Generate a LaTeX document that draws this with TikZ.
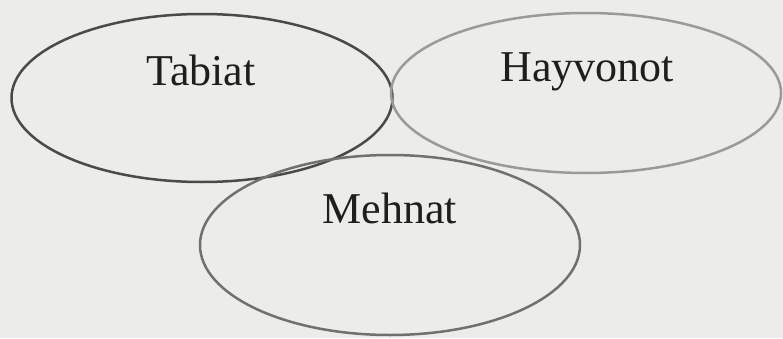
\documentclass[tikz,border=0pt]{standalone}
\usepackage{fontspec}
\setmainfont{Liberation Serif}
\usetikzlibrary{shapes.geometric}
\definecolor{paper}{HTML}{ECECE9}
\definecolor{inkA}{HTML}{4A4A4A}
\definecolor{inkB}{HTML}{9A9A9A}
\definecolor{inkC}{HTML}{707070}
\definecolor{txt}{HTML}{1E1E1E}
\tikzset{
  oval/.style={ellipse, line width=2.5pt, inner sep=0pt},
  lbl/.style={text=txt, font=\fontsize{44}{50}\selectfont, anchor=base, inner sep=0pt}
}
\begin{document}
\begin{tikzpicture}[x=1pt,y=1pt]
\fill[paper] (0,0) rectangle (783,338);
\useasboundingbox (0,0) rectangle (783,338);
\node[oval, draw=inkA, minimum width=381pt, minimum height=168pt] (tab) at (202,240) {};
\node[oval, draw=inkB, minimum width=390pt, minimum height=160pt] (hay) at (586,245) {};
\node[oval, draw=inkC, minimum width=380pt, minimum height=180pt] (meh) at (390,93) {};
\node[lbl] (tabt) at (201,253) {Tabiat};
\node[lbl] (hayt) at (587,256) {Hayvonot};
\node[lbl] (meht) at (390,115) {Mehnat};
\end{tikzpicture}
\end{document}
